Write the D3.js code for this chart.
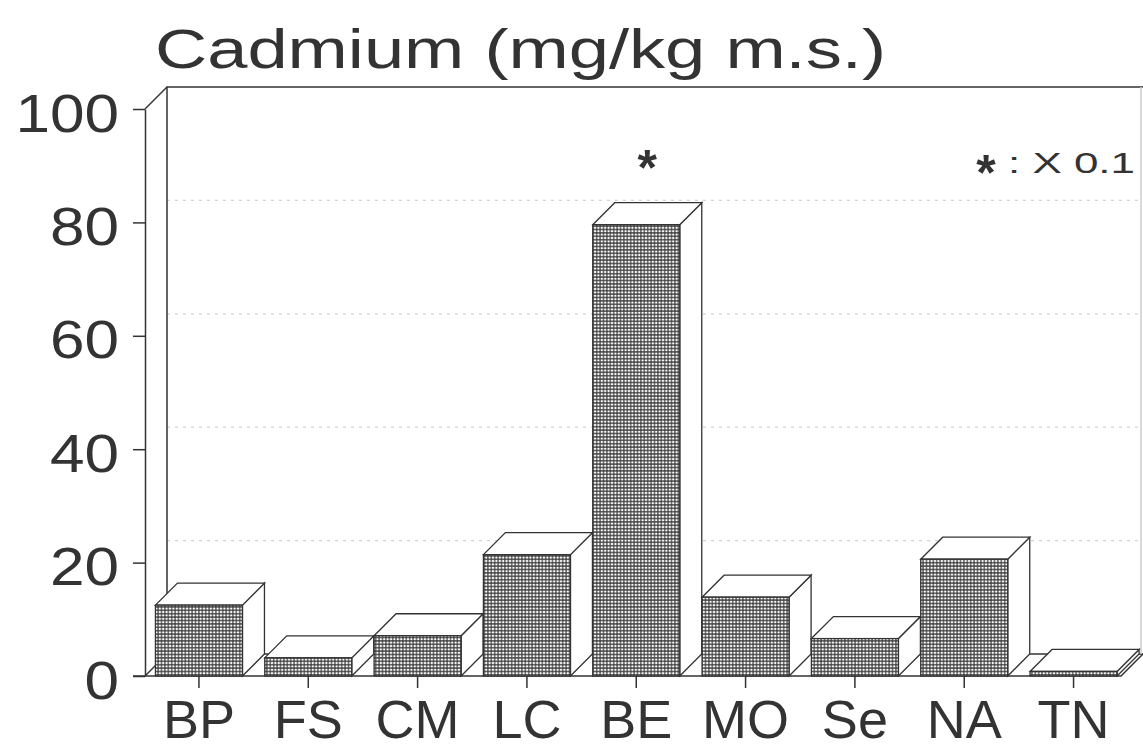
<!DOCTYPE html>
<html><head><meta charset="utf-8">
<script src="https://cdn.jsdelivr.net/npm/d3@7"></script>
<style>body{margin:0;background:#fff}svg{display:block}</style>
</head><body>
<script>
// Cadmium content by sample (mg/kg dry matter); BE is drawn at one tenth of its value
const categories = ["BP", "FS", "CM", "LC", "BE", "MO", "Se", "NA", "TN"];
const values = [12.5, 3.2, 7.1, 21.4, 79.6, 13.9, 6.6, 20.6, 0.8];
const yTicks = [0, 20, 40, 60, 80, 100];
const gridTicks = [20, 40, 60, 80];
const scaledCategories = ["BE"];
const titleText = "Cadmium (mg/kg m.s.)";
const noteText = ": X 0.1";

const W = 1143, H = 750;
const depth = 22;
const ink = "#333";
const font = "'Liberation Sans', Arial, Helvetica, sans-serif";

const svg = d3.select("body").append("svg").attr("width", W).attr("height", H);

const x = d3.scaleBand().domain(categories).range([144.5, 1128])
  .paddingInner(0.204).paddingOuter(0.1);
const y = d3.scaleLinear().domain([0, 100]).range([676, 109]);

// fine cross-hatch for the bar fronts
const defs = svg.append("defs");
const pat = defs.append("pattern").attr("id", "hatch")
  .attr("patternUnits", "userSpaceOnUse").attr("width", 3.4).attr("height", 3.4);
pat.append("rect").attr("width", 3.4).attr("height", 3.4).attr("fill", "#fff");
pat.append("path").attr("d", "M0,1.7H3.4M1.7,0V3.4")
  .attr("stroke", "#333").attr("stroke-width", 1.1);

const left = 145;
const backY = v => y(v) - depth;

// back wall grid lines
svg.append("g").selectAll("line").data(gridTicks).join("line")
  .attr("x1", left + depth).attr("x2", W)
  .attr("y1", d => backY(d)).attr("y2", d => backY(d))
  .attr("stroke", "#d4d4d4").attr("stroke-width", 1.2)
  .attr("stroke-dasharray", "3,5");

const frame = svg.append("g").attr("fill", "none").attr("stroke", ink).attr("stroke-width", 1.5);
// back wall and floor
frame.append("path").attr("d", `M${left + depth},${backY(0)}V${backY(100)}H${W}`);
frame.append("path").attr("d", `M${left},${y(100)}L${left + depth},${backY(100)}`);
frame.append("path").attr("d", `M${left + depth},${backY(0)}H${W}`);
frame.append("path").attr("d", `M${left},${y(0)}L${left + depth},${backY(0)}`);
frame.append("path").attr("d", `M1141,${backY(100)}V${backY(0)}`).attr("stroke", "#ccc");

// bars
const bars = svg.append("g").selectAll("g").data(categories).join("g");
bars.each(function (c, i) {
  const g = d3.select(this);
  const a = x(c), b = x(c) + x.bandwidth();
  const t = y(values[i]), base = y(0);
  g.append("path")
    .attr("d", `M${b},${base}L${b + depth},${base - depth}V${t - depth}L${b},${t}Z`)
    .attr("fill", "#fff").attr("stroke", ink).attr("stroke-width", 1.3);
  g.append("path")
    .attr("d", `M${a},${t}L${a + depth},${t - depth}H${b + depth}L${b},${t}Z`)
    .attr("fill", "#fff").attr("stroke", ink).attr("stroke-width", 1.3);
  g.append("rect").attr("x", a).attr("y", t)
    .attr("width", x.bandwidth()).attr("height", base - t)
    .attr("fill", "url(#hatch)").attr("stroke", ink).attr("stroke-width", 1.3);
});

// front floor edge
frame.append("path").attr("d", `M133,${y(0)}H1121L${W},${backY(0)}`);

// y axis
const yAxis = svg.append("g").attr("transform", `translate(${left},0)`)
  .call(d3.axisLeft(y).tickValues(yTicks).tickSize(12).tickSizeOuter(0).tickFormat(""));
yAxis.selectAll("path,line").attr("stroke", ink).attr("stroke-width", 1.5);

svg.append("g").selectAll("text").data(yTicks).join("text")
  .attr("transform", d => `translate(119,${y(d) + 22.5}) scale(1.15,1)`)
  .attr("text-anchor", "end").attr("font-family", font).attr("font-size", 54)
  .attr("fill", ink).text(d => d);

// x axis
const xAxis = svg.append("g").attr("transform", `translate(0,${y(0)})`)
  .call(d3.axisBottom(x).tickSize(12).tickSizeOuter(0));
xAxis.select(".domain").remove();
xAxis.selectAll("line").attr("stroke", ink).attr("stroke-width", 1.5);
xAxis.selectAll("text").attr("font-family", font).attr("font-size", 54)
  .attr("fill", ink).attr("dy", null).attr("y", 62);

// markers for scaled bars
svg.append("g").selectAll("text").data(scaledCategories).join("text")
  .attr("x", d => x(d) + x.bandwidth() / 2 + depth / 2)
  .attr("y", d => y(values[categories.indexOf(d)]) - depth - 18)
  .attr("text-anchor", "middle").attr("font-family", font).attr("font-size", 50)
  .attr("font-weight", "bold").attr("fill", ink).text("*");

// note
svg.append("text").attr("x", 986).attr("y", 190).attr("text-anchor", "middle")
  .attr("font-family", font).attr("font-size", 50).attr("font-weight", "bold")
  .attr("fill", ink).text("*");
svg.append("text").attr("x", 1008).attr("y", 173)
  .attr("font-family", font).attr("font-size", 30).attr("fill", ink)
  .attr("textLength", 127).attr("lengthAdjust", "spacingAndGlyphs")
  .attr("xml:space", "preserve").text(noteText);

// title
svg.append("text").attr("x", 155).attr("y", 68)
  .attr("font-family", font).attr("font-size", 56).attr("fill", ink)
  .attr("textLength", 731).attr("lengthAdjust", "spacingAndGlyphs")
  .text(titleText);
</script>
</body></html>
